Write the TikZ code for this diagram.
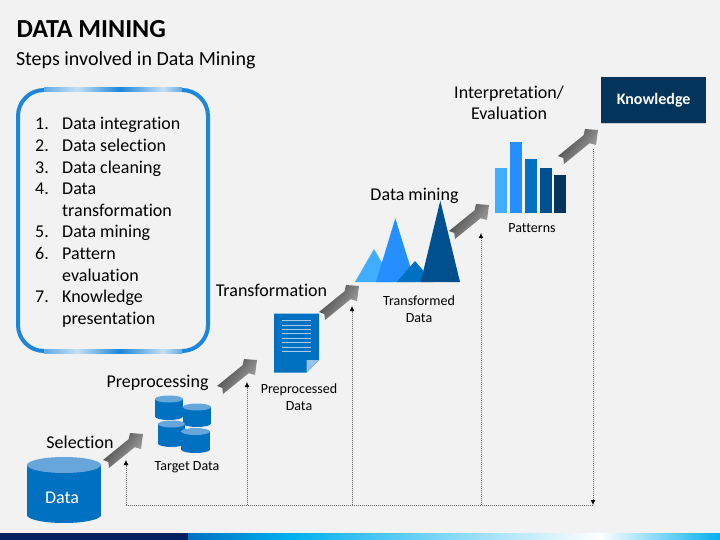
\documentclass[tikz,border=0pt]{standalone}
\usepackage{fontspec}
\setmainfont[Ligatures=NoCommon]{Carlito}
\usepackage{xcolor}
\usetikzlibrary{arrows.meta,shadows}
\definecolor{dmBack}{RGB}{242,242,242}
\definecolor{dmBlue}{RGB}{0,112,192}
\definecolor{dmTop}{RGB}{102,166,218}
\definecolor{dmFrame}{RGB}{28,134,218}
\definecolor{dmPale}{RGB}{196,224,244}
\definecolor{dmSky}{RGB}{64,173,255}
\definecolor{dmMid}{RGB}{38,143,255}
\definecolor{dmDeep}{RGB}{0,80,143}
\definecolor{dmNavy}{RGB}{3,52,92}
\definecolor{dmBar}{RGB}{0,32,96}
\definecolor{dmCyan}{RGB}{0,176,240}
\tikzset{
  stepLabel/.style={font=\fontsize{18}{21}\selectfont, align=center, text=black},
  dataLabel/.style={font=\fontsize{14}{17.5}\selectfont, align=center, text=black},
  busLine/.style={draw=black!60, line width=0.8pt, dash pattern=on 1pt off 1pt},
  busTip/.style={busLine, -{Latex[length=5pt,width=5pt,black]}}
}
% block arrow, placed by its tip
\newcommand{\stepArrow}[2]{
  \begin{scope}[shift={(#1,#2)}]
    \shade[bottom color=black!32, top color=black!75, shading angle=52]
      (0,0) -- (-13,-1) -- (-14.4,5.2) -- (-40,26) -- (-34.7,28) -- (-34,34)
      -- (-8.4,13.2) -- (-2,15) -- cycle;
  \end{scope}
}
% cylinder: centre x, top y, bottom y, radius x, radius y
\newcommand{\dbCyl}[5]{
  \fill[dmBlue] (#1,#3) ellipse [x radius=#4, y radius=#5];
  \fill[dmBlue] ({#1-#4},#2) rectangle ({#1+#4},#3);
  \fill[dmTop] (#1,#2) ellipse [x radius=#4, y radius=#5];
}
\begin{document}
\begin{tikzpicture}[x=1pt,y=-1pt]
  % Page background and bottom band
  \fill[dmBack] (0,0) rectangle (720,540);
  \useasboundingbox (0,0) rectangle (720,540);
  \fill[dmBar] (0,533) rectangle (188,540);
  \shade[left color=dmBlue, right color=dmCyan] (188,533) rectangle (290,540);
  \shade[left color=dmCyan, right color=white] (290,533) rectangle (600,540);
  \shade[left color=white, right color=dmCyan] (600,533) rectangle (720,540);

  % Title
  \node[anchor=west, font=\fontsize{26}{30}\selectfont\bfseries] (title) at (13,29) {DATA MINING};
  \node[anchor=west, font=\fontsize{20}{24}\selectfont] (subtitle) at (12.5,60) {Steps involved in Data Mining};

  % List frame, the top and bottom edges fade in and out
  \draw[dmFrame, line width=4pt, rounded corners=26pt] (18,90) rectangle (208,351);
  \foreach \edgeY in {90,351} {
    \shade[left color=dmFrame!70, right color=dmPale] (44,\edgeY-2) rectangle (77,\edgeY+2);
    \shade[left color=dmPale, right color=dmFrame] (77,\edgeY-2) rectangle (120,\edgeY+2);
    \shade[left color=dmFrame, right color=dmPale] (120,\edgeY-2) rectangle (163,\edgeY+2);
    \shade[left color=dmPale, right color=dmFrame!70] (163,\edgeY-2) rectangle (182,\edgeY+2);
  }
  \node[anchor=north west, inner sep=0pt, font=\fontsize{18}{21.6}\selectfont] (steps) at (35,114.5) {%
    \begin{tabular}{@{}p{27pt}@{}l@{}}
      1. & Data integration\\
      2. & Data selection\\
      3. & Data cleaning\\
      4. & Data\\
         & transformation\\
      5. & Data mining\\
      6. & Pattern\\
         & evaluation\\
      7. & Knowledge\\
         & presentation
    \end{tabular}};

  % Dotted feedback lines
  \coordinate (busLeft) at (126,505);
  \coordinate (busB) at (247,505);
  \coordinate (busC) at (352,505);
  \coordinate (busD) at (481,505);
  \coordinate (busRight) at (593,505);
  \coordinate (tipA) at (126,460);
  \coordinate (tipB) at (247,382);
  \coordinate (tipC) at (352,306);
  \coordinate (tipD) at (481,233);
  \coordinate (tipE) at (593,149);
  \draw[busLine] (busLeft) -- (busRight);
  \draw[busTip] (busLeft) -- (tipA);
  \draw[busTip] (busB) -- (tipB);
  \draw[busTip] (busC) -- (tipC);
  \draw[busTip] (busD) -- (tipD);
  \draw[busTip] (tipE) -- (busRight);

  % Gradient arrows
  \stepArrow{143}{434}
  \stepArrow{257}{360}
  \stepArrow{359}{286}
  \stepArrow{489}{205}
  \stepArrow{598}{130}

  % Data
  \dbCyl{64}{465}{515}{37}{8}
  \node[text=white, font=\fontsize{18}{22}\selectfont] (data) at (62,498) {Data};
  \node[stepLabel] (selection) at (80,442.5) {Selection};

  % Target data
  \dbCyl{169}{399}{416.5}{14}{3.5}
  \dbCyl{197}{407}{423.5}{14}{3.5}
  \dbCyl{171.5}{424}{443.5}{13.5}{3.5}
  \dbCyl{195.5}{431.5}{449.5}{14.5}{3.5}
  \node[stepLabel] (preprocessing) at (157.5,382.5) {Preprocessing};
  \node[dataLabel] (target) at (187,467.5) {Target Data};

  % Preprocessed document
  \fill[dmBlue] (274,313.5) -- (319,313.5) -- (319,360) -- (306.7,372.7) -- (274,372.7) -- cycle;
  \fill[dmTop!70!white] (306.7,360) -- (319,360) -- (306.7,372.7) -- cycle;
  \foreach \lineY in {320.7,325.1,329.5,333.9,338.3,342.7,347.1,351.5}
    \draw[dmTop!60!white, line width=0.9pt] (282.3,\lineY) -- (310.7,\lineY);
  \node[stepLabel] (transformation) at (271.5,290) {Transformation};
  \node[dataLabel] (preprocessed) at (299,397) {Preprocessed\\Data};

  % Transformed data
  \fill[dmSky] (355,282) -- (374,249) -- (393.3,282) -- cycle;
  \fill[dmMid] (376,282) -- (395.3,218.3) -- (415,282) -- cycle;
  \fill[dmBlue] (396.7,282) -- (415,261) -- (433,282) -- cycle;
  \fill[dmDeep] (420.7,282) -- (440.3,200.7) -- (460,282) -- cycle;
  \node[stepLabel] (mining) at (414.5,196) {Data mining};
  \node[dataLabel] (transformed) at (419,309) {Transformed\\Data};

  % Patterns
  \fill[dmSky] (495,167.7) rectangle (506.7,213.3);
  \fill[dmMid] (510,142.3) rectangle (521.7,213.3);
  \fill[dmBlue] (525.3,159.3) rectangle (537,213.3);
  \fill[dmDeep] (540.3,167.7) rectangle (552,213.3);
  \fill[dmNavy] (554.3,175.3) rectangle (566,213.3);
  \node[stepLabel] (interpretation) at (509,103) {Interpretation/\\Evaluation};
  \node[dataLabel] (patterns) at (532,228) {Patterns};

  % Knowledge
  \node[fill=dmNavy, text=white, minimum width=105.3pt, minimum height=46.6pt, inner sep=0pt,
    font=\fontsize{16}{18}\selectfont\bfseries, drop shadow={shadow xshift=0pt, shadow yshift=-1pt, opacity=0.3}]
    (knowledge) at (653.6,100) {\raisebox{-3pt}{Knowledge}};
\end{tikzpicture}
\end{document}
